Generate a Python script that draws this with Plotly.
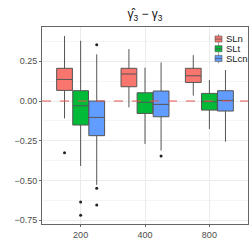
import plotly.graph_objects as go

sizes = ["200", "400", "800"]
methods = ["SLn", "SLt", "SLcn"]
colors = {"SLn": "#F8766D", "SLt": "#00BA38", "SLcn": "#619CFF"}

# box statistics per method, across sizes 200, 400, 800
upper = {"SLn": [0.409, 0.327, 0.289], "SLt": [0.379, 0.21, 0.132], "SLcn": [0.294, 0.243, 0.195]}
q3 = {"SLn": [0.206, 0.206, 0.206], "SLt": [0.065, 0.052, 0.048], "SLcn": [0.0, 0.063, 0.065]}
med = {"SLn": [0.136, 0.170, 0.159], "SLt": [-0.030, -0.008, -0.004], "SLcn": [-0.103, -0.021, 0.004]}
q1 = {"SLn": [0.067, 0.090, 0.117], "SLt": [-0.151, -0.078, -0.057], "SLcn": [-0.218, -0.099, -0.063]}
lower = {"SLn": [-0.109, -0.040, 0.034], "SLt": [-0.409, -0.27, -0.176], "SLcn": [-0.528, -0.312, -0.256]}

# outliers: (size index, value)
out_size = {"SLn": [0], "SLt": [0, 0], "SLcn": [0, 0, 0, 1]}
out_val = {"SLn": [-0.325], "SLt": [-0.635, -0.719], "SLcn": [0.354, -0.549, -0.654, -0.346]}

W, H = 252, 252
ML, MR, MT, MB = 42, 4, 27, 28
pw, ph = W - ML - MR, H - MT - MB

dodge = 0.75
bw = dodge / len(methods)

fig = go.Figure()
for j, m in enumerate(methods):
    off = -dodge / 2 + bw * (j + 0.5)
    xs = [i + 1 + off for i in range(len(sizes))]
    fig.add_trace(go.Box(
        x=xs, q1=q1[m], median=med[m], q3=q3[m],
        lowerfence=lower[m], upperfence=upper[m],
        width=bw * 0.98, name=m, fillcolor=colors[m],
        line=dict(color="#555555", width=1), whiskerwidth=0,
        boxpoints=False, hoverinfo="skip", showlegend=False,
    ))
    fig.add_trace(go.Scatter(
        x=[out_size[m][k] + 1 + off for k in range(len(out_val[m]))],
        y=out_val[m], mode="markers", hoverinfo="skip",
        marker=dict(color="#222222", size=3), showlegend=False,
    ))

fig.add_hline(y=0, line=dict(color="#E8544E", width=1, dash="dash"))

# manual compact legend (top-right, inside panel)
def px_x(x):
    return (x - ML) / pw

def px_y(y):
    return (H - MB - y) / ph

for j, m in enumerate(methods):
    yc = 39 + j * 9.7
    fig.add_shape(type="line", xref="paper", yref="paper",
                  x0=px_x(218.5), x1=px_x(218.5), y0=px_y(yc - 4.8), y1=px_y(yc + 4.8),
                  line=dict(color="#999999", width=1))
    fig.add_shape(type="rect", xref="paper", yref="paper",
                  x0=px_x(215), x1=px_x(222), y0=px_y(yc + 3), y1=px_y(yc - 3),
                  fillcolor=colors[m], line=dict(color="#555555", width=0.6))
    fig.add_shape(type="line", xref="paper", yref="paper",
                  x0=px_x(215), x1=px_x(222), y0=px_y(yc), y1=px_y(yc),
                  line=dict(color="#555555", width=0.8))
    fig.add_annotation(text=m, xref="paper", yref="paper", x=px_x(224), y=px_y(yc),
                       xanchor="left", yanchor="middle", showarrow=False,
                       font=dict(size=9.5, color="#222222"))

fig.update_layout(
    width=W, height=H,
    margin=dict(l=ML, r=MR, t=MT, b=MB),
    paper_bgcolor="white", plot_bgcolor="white",
    title=dict(text="γ̂<sub>3</sub> − γ<sub>3</sub>", x=145 / W, xanchor="center",
               y=1 - 14 / H, yanchor="middle",
               font=dict(family="Liberation Sans, Arial", size=12, color="#111111")),
    font=dict(family="Liberation Sans, Arial", size=9, color="#4d4d4d"),
    showlegend=False,
    xaxis=dict(range=[0.4, 3.6], tickvals=[1, 2, 3], ticktext=sizes,
               showgrid=True, gridcolor="#ebebeb", gridwidth=1,
               showline=True, linecolor="#666666", mirror=True, linewidth=1,
               ticks="outside", ticklen=2, tickcolor="#666666", zeroline=False),
    yaxis=dict(range=[-0.774, 0.466], tickvals=[-0.75, -0.5, -0.25, 0, 0.25],
               tickformat=".2f",
               showgrid=True, gridcolor="#ebebeb", gridwidth=1,
               minor=dict(dtick=0.125, showgrid=True, gridcolor="#f5f5f5"),
               showline=True, linecolor="#666666", mirror=True, linewidth=1,
               ticks="outside", ticklen=2, tickcolor="#666666", zeroline=False),
)

fig.write_html("out.html", config={"displayModeBar": False},
               post_script="document.body.style.margin='0px';")
